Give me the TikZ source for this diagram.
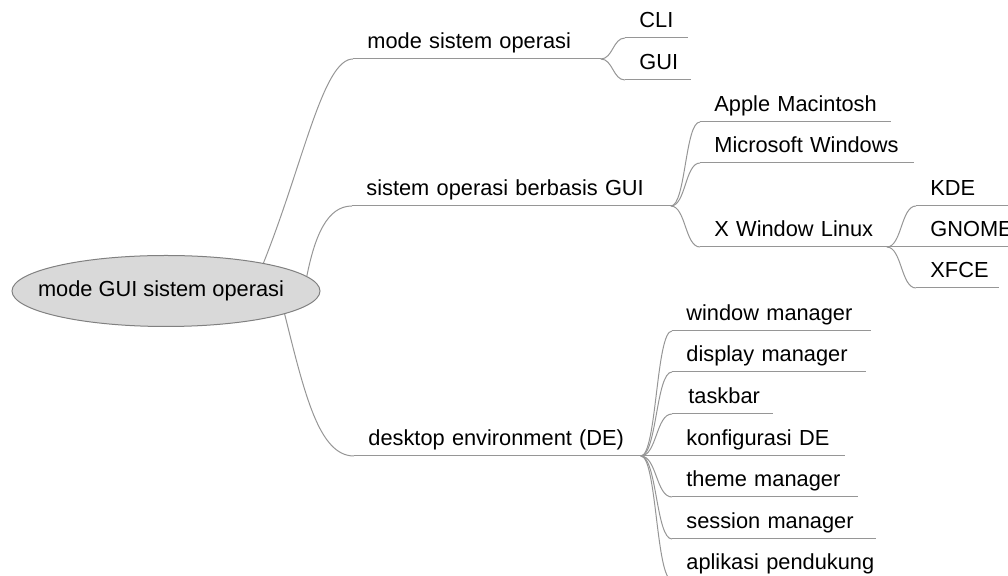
\documentclass[tikz,border=0pt]{standalone}
\usepackage{fontspec}
\setmainfont{Liberation Sans}
\usetikzlibrary{shapes.geometric}
\definecolor{linegray}{RGB}{150,150,150}
\definecolor{rootfill}{RGB}{217,217,217}
\definecolor{rootdraw}{RGB}{128,128,128}
\tikzset{
  topic/.style={anchor=south west, inner xsep=7pt, inner ysep=5pt, text depth=0pt,
    align=left, font=\fontsize{10.9}{13}\selectfont, text width=#1},
  branch/.style={draw=linegray, line width=0.5pt},
  root/.style={ellipse, draw=rootdraw, fill=rootfill, line width=0.5pt,
    minimum width=154pt, minimum height=35.5pt, inner sep=0pt,
    font=\fontsize{10.9}{13}\selectfont}
}
\begin{document}
\begin{tikzpicture}[x=0.5pt, y=0.5pt]
  \useasboundingbox (0,0) rectangle (1008,-576);
  \clip (0,0) rectangle (1008,-576);
  \node[root] (root) at (166,-291) {\makebox[0pt]{mode GUI sistem operasi\hspace*{5pt}}};
  % cabang utama
  \node[topic=109.5pt] (mode) at (353,-59) {\mbox{mode sistem operasi}};
  \node[topic=145pt] (sogui) at (352,-206) {\mbox{sistem operasi berbasis GUI}};
  \node[topic=129pt] (de) at (354,-456) {\mbox{desktop environment (DE)}};
  % mode sistem operasi
  \node[topic=17pt] (cli) at (625,-38) {\mbox{CLI}};
  \node[topic=18.5pt] (gui) at (625,-80) {\mbox{GUI}};
  % sistem operasi berbasis GUI
  \node[topic=81pt] (apple) at (700,-122) {\mbox{Apple Macintosh}};
  \node[topic=92.5pt] (mswin) at (700,-163) {\mbox{Microsoft Windows}};
  \node[topic=79pt] (xwin) at (700,-247) {\mbox{X Window Linux}};
  \node[topic=38pt] (kde) at (916,-206) {\mbox{KDE}};
  \node[topic=43pt] (gnome) at (916,-247) {\mbox{GNOME}};
  \node[topic=27pt] (xfce) at (916,-288) {\mbox{XFCE}};
  % desktop environment
  \node[topic=85pt] (wm) at (672,-331) {\mbox{window manager}};
  \node[topic=82.5pt] (dm) at (672,-372) {\mbox{display manager}};
  \node[topic=36pt] (taskbar) at (672,-414) {\mbox{\hspace*{1pt}taskbar}};
  \node[topic=72pt] (konf) at (672,-456) {\mbox{konfigurasi DE}};
  \node[topic=78.5pt] (theme) at (672,-497) {\mbox{theme manager}};
  \node[topic=87.5pt] (sess) at (672,-539) {\mbox{session manager}};
  \node[topic=92.5pt] (apl) at (672,-580) {\mbox{aplikasi pendukung}};
  % garis bawah
  \foreach \n in {mode,sogui,de,cli,gui,apple,mswin,xwin,kde,gnome,xfce,wm,dm,taskbar,konf,theme,sess,apl}
    \draw[branch] (\n.south west) -- (\n.south east);
  % penghubung
  \draw[branch] (root.16) .. controls +(40,100) and +(-30,0) .. (mode.south west);
  \draw[branch] (root.6) .. controls +(8,40) and +(-25,0) .. (sogui.south west);
  \draw[branch] (root.-11) .. controls +(20,-80) and +(-35,0) .. (de.south west);
  \foreach \c in {cli,gui}
    \draw[branch] (mode.south east) .. controls +(12,0) and +(-12,0) .. (\c.south west);
  \foreach \c in {apple,mswin,xwin}
    \draw[branch] (sogui.south east) .. controls +(15,0) and +(-15,0) .. (\c.south west);
  \foreach \c in {kde,gnome,xfce}
    \draw[branch] (xwin.south east) .. controls +(15,0) and +(-15,0) .. (\c.south west);
  \foreach \c in {wm,dm,taskbar,konf,theme,sess,apl}
    \draw[branch] (de.south east) .. controls +(16,0) and +(-16,0) .. (\c.south west);
\end{tikzpicture}
\end{document}
